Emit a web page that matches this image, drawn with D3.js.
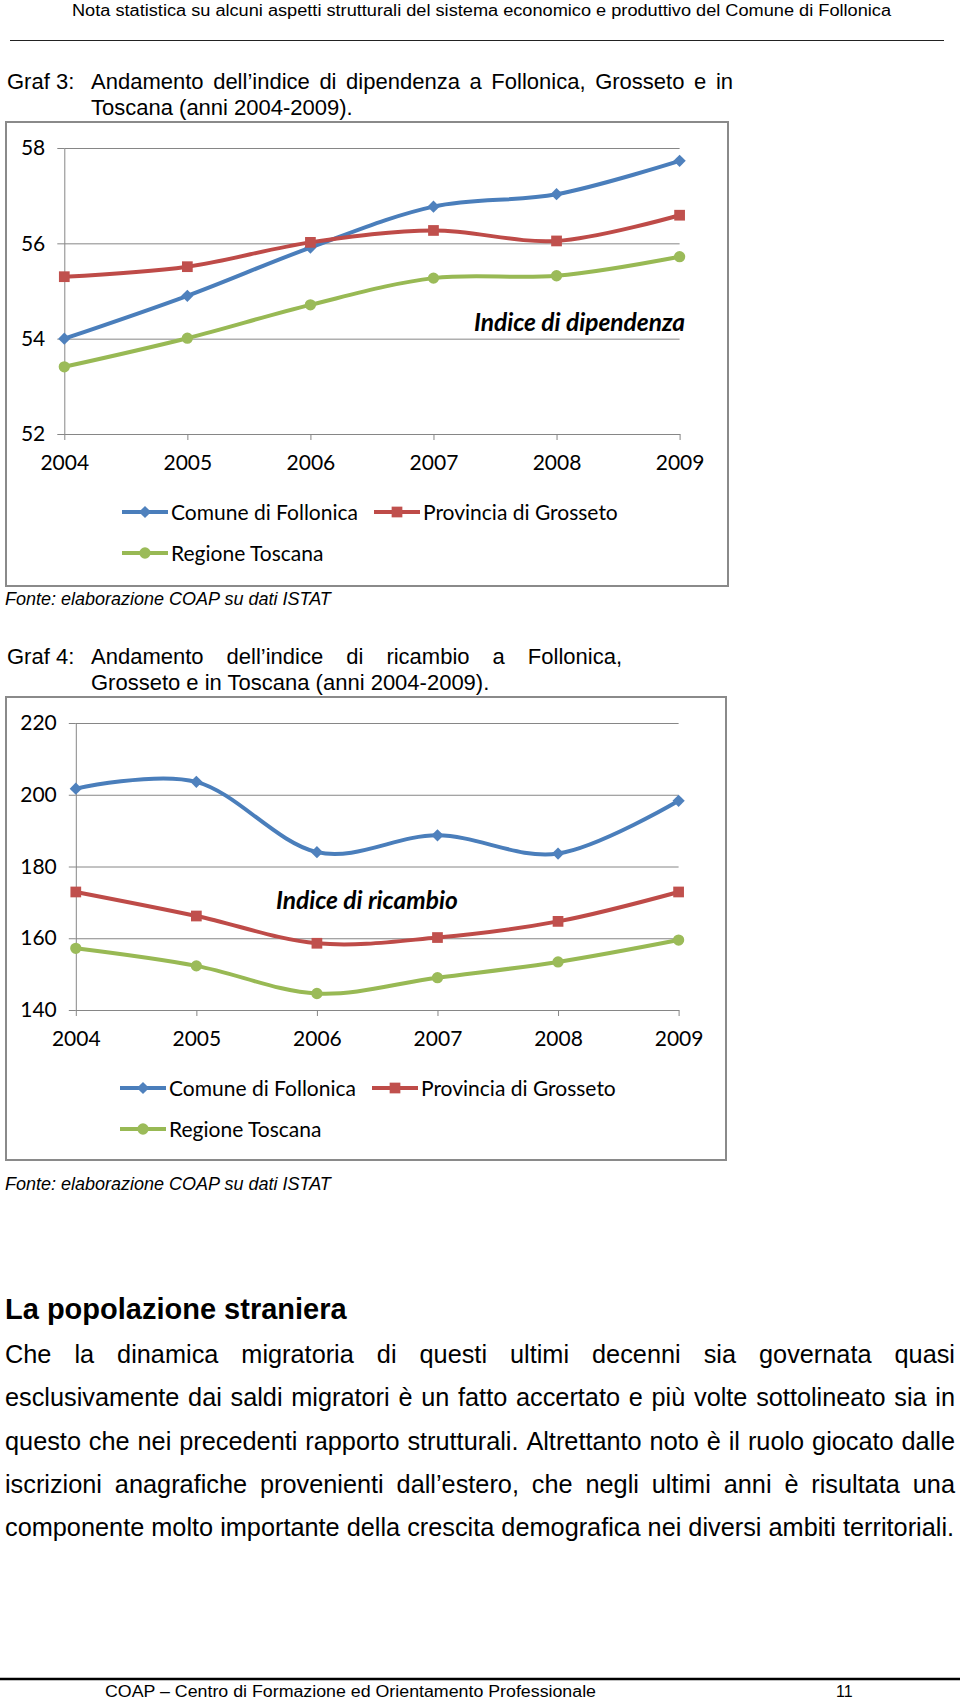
<!DOCTYPE html>
<html><head><meta charset="utf-8">
<script src="https://cdn.jsdelivr.net/npm/d3@7"></script>
<style>
html,body{margin:0;padding:0;background:#fff;}
svg{display:block;}
</style></head><body>
<svg id="page" width="960" height="1700"></svg>
<script>
// ---------- DATA ----------
const years = ["2004","2005","2006","2007","2008","2009"];
const seriesNames = ["Comune di Follonica","Provincia di Grosseto","Regione Toscana"];

const dipFollonica = [54.00, 54.90, 55.91, 56.77, 57.03, 57.73];
const dipGrosseto  = [55.30, 55.51, 56.02, 56.27, 56.05, 56.59];
const dipToscana   = [53.41, 54.01, 54.71, 55.27, 55.32, 55.72];
const dipTicks = [52, 54, 56, 58];

const ricFollonica = [201.7, 203.6, 184.0, 188.7, 183.6, 198.3];
const ricGrosseto  = [172.9, 166.2, 158.6, 160.2, 164.7, 172.9];
const ricToscana   = [157.2, 152.3, 144.6, 149.0, 153.4, 159.5];
const ricTicks = [140, 160, 180, 200, 220];

const headerText = "Nota statistica su alcuni aspetti strutturali del sistema economico e produttivo del Comune di Follonica";
const footerText = "COAP – Centro di Formazione ed Orientamento Professionale";
const pageNumber = "11";
const graf3Label = "Graf 3:";
const graf3Lines = ["Andamento dell’indice di dipendenza a Follonica, Grosseto e in", "Toscana (anni 2004-2009)."];
const graf4Label = "Graf 4:";
const graf4Lines = ["Andamento dell’indice di ricambio a Follonica,", "Grosseto e in Toscana (anni 2004-2009)."];
const sourceText = "Fonte: elaborazione COAP su dati ISTAT";
const chart1Title = "Indice di dipendenza";
const chart2Title = "Indice di ricambio";
const sectionTitle = "La popolazione straniera";
const bodyLines = [
  "Che la dinamica migratoria di questi ultimi decenni sia governata quasi",
  "esclusivamente dai saldi migratori è un fatto accertato e più volte sottolineato sia in",
  "questo che nei precedenti rapporto strutturali. Altrettanto noto è il ruolo giocato dalle",
  "iscrizioni anagrafiche provenienti dall’estero, che negli ultimi anni è risultata una",
  "componente molto importante della crescita demografica nei diversi ambiti territoriali."
];

// ---------- STYLE ----------
const SANS = "'Liberation Sans', Arial, Helvetica, sans-serif";
const CHART = "Lato, 'Open Sans', sans-serif";
const colors = [
  {line:"#4A7EBB", fill:"#4F81BD", shape:"diamond"},
  {line:"#BE4B48", fill:"#C0504D", shape:"square"},
  {line:"#98B954", fill:"#9BBB59", shape:"circle"}
];

const svg = d3.select("#page");

function txt(x, y, str, o = {}) {
  const t = svg.append("text").attr("x", x).attr("y", y).text(str)
    .style("font-family", o.family || SANS)
    .style("font-size", (o.size || 16) + "px")
    .attr("fill", o.fill || "#000");
  if (o.weight) t.style("font-weight", o.weight);
  if (o.italic) t.style("font-style", "italic");
  if (o.anchor) t.attr("text-anchor", o.anchor);
  if (o.fit) t.attr("textLength", o.fit).attr("lengthAdjust", "spacingAndGlyphs");
  return t;
}

function justified(x0, x1, y, str, o = {}) {
  const words = str.split(" ");
  const t = svg.append("text").attr("y", y)
    .style("font-family", o.family || SANS)
    .style("font-size", (o.size || 16) + "px")
    .attr("fill", "#000");
  const spans = words.map(w => t.append("tspan").text(w));
  const widths = spans.map(s => s.node().getComputedTextLength());
  const total = d3.sum(widths);
  const gap = (x1 - x0 - total) / (words.length - 1);
  let cx = x0;
  spans.forEach((s, i) => { s.attr("x", cx); cx += widths[i] + gap; });
  return t;
}

// ---------- PAGE TEXT ----------
txt(72, 16, headerText, {size: 16, fit: 819});
svg.append("line").attr("x1", 10).attr("x2", 944).attr("y1", 40.5).attr("y2", 40.5)
  .attr("stroke", "#222").attr("stroke-width", 1);

txt(7, 89, graf3Label, {size: 22});
justified(91, 733, 89, graf3Lines[0], {size: 22});
txt(91, 115, graf3Lines[1], {size: 22});

txt(5, 605, sourceText, {size: 18, italic: true});

txt(7, 664, graf4Label, {size: 22});
justified(91, 622, 664, graf4Lines[0], {size: 22});
txt(91, 690, graf4Lines[1], {size: 22});

txt(5, 1190, sourceText, {size: 18, italic: true});

txt(5, 1319, sectionTitle, {size: 29, weight: "bold"});
bodyLines.forEach((l, i) => {
  const y = 1363 + i * 43.3;
  if (i < bodyLines.length - 1) justified(5, 955, y, l, {size: 25.3});
  else txt(5, y, l, {size: 25.3});
});

svg.append("line").attr("x1", 0).attr("x2", 960).attr("y1", 1679).attr("y2", 1679)
  .attr("stroke", "#000").attr("stroke-width", 2.5);
txt(105, 1697, footerText, {size: 16, fit: 491});
txt(836, 1697, pageNumber, {size: 16});

// ---------- CHARTS ----------
function marker(g, shape, cx, cy, color) {
  if (shape === "diamond") {
    g.append("path").attr("d", d3.symbol(d3.symbolSquare, 75)())
      .attr("transform", `translate(${cx},${cy}) rotate(45)`).attr("fill", color);
  } else if (shape === "square") {
    g.append("path").attr("d", d3.symbol(d3.symbolSquare, 115)())
      .attr("transform", `translate(${cx},${cy})`).attr("fill", color);
  } else {
    g.append("path").attr("d", d3.symbol(d3.symbolCircle, 100)())
      .attr("transform", `translate(${cx},${cy})`).attr("fill", color);
  }
}

function drawChart(c) {
  const g = svg.append("g");
  g.append("rect").attr("x", c.box[0]).attr("y", c.box[1])
    .attr("width", c.box[2] - c.box[0]).attr("height", c.box[3] - c.box[1])
    .attr("fill", "#fff").attr("stroke", "#8a8a8a").attr("stroke-width", 2);

  const x = d3.scalePoint().domain(years).range([c.left, c.right]);
  const y = d3.scaleLinear().domain([c.ticks[0], c.ticks[c.ticks.length - 1]]).range([c.bottom, c.top]);

  const grid = g.append("g").attr("transform", `translate(${c.left},0)`)
    .call(d3.axisLeft(y).tickValues(c.ticks).tickSize(-(c.right - c.left)).tickFormat("").tickSizeOuter(0));
  grid.select(".domain").remove();
  grid.selectAll("line").attr("stroke", "#868686").attr("stroke-width", 1);

  const ya = g.append("g").attr("transform", `translate(${c.left},0)`)
    .call(d3.axisLeft(y).tickValues(c.ticks).tickFormat(d3.format("d")).tickSize(7).tickPadding(12).tickSizeOuter(0));
  ya.select(".domain").attr("stroke", "#868686");
  ya.selectAll("line").attr("stroke", "#868686");
  ya.selectAll("text").style("font-family", CHART).style("font-size", "21px").attr("fill", "#000");

  const xa = g.append("g").attr("transform", `translate(0,${c.bottom})`)
    .call(d3.axisBottom(x).tickSize(6).tickSizeOuter(0).tickPadding(15));
  xa.select(".domain").attr("stroke", "#868686");
  xa.selectAll("line").attr("stroke", "#868686");
  xa.selectAll("text").style("font-family", CHART).style("font-size", "21px").attr("fill", "#000");

  const line = d3.line().x((d, i) => x(years[i])).y(d => y(d)).curve(d3.curveCardinal.tension(0));
  c.series.forEach((s, k) => {
    g.append("path").attr("d", line(s)).attr("fill", "none")
      .attr("stroke", colors[k].line).attr("stroke-width", 4).attr("stroke-linecap", "round");
    s.forEach((v, i) => marker(g, colors[k].shape, x(years[i]), y(v), colors[k].fill));
  });

  g.append("text").attr("x", c.titlePos[0]).attr("y", c.titlePos[1]).text(c.title)
    .style("font-family", CHART).style("font-size", "24.5px").style("font-weight", "bold")
    .style("font-style", "italic").attr("fill", "#000");

  c.legend.forEach((p, k) => {
    g.append("line").attr("x1", p[0]).attr("x2", p[0] + 46).attr("y1", p[1]).attr("y2", p[1])
      .attr("stroke", colors[k].line).attr("stroke-width", 4);
    marker(g, colors[k].shape, p[0] + 23, p[1], colors[k].fill);
    g.append("text").attr("x", p[0] + 49).attr("y", p[1] + 7.5).text(seriesNames[k])
      .style("font-family", CHART).style("font-size", "21px").attr("fill", "#000");
  });
}

drawChart({
  box: [6, 122, 728, 586],
  left: 64.3, right: 679.6, top: 148, bottom: 434,
  ticks: dipTicks,
  series: [dipFollonica, dipGrosseto, dipToscana],
  title: chart1Title, titlePos: [474, 331],
  legend: [[122, 512], [374, 512], [122, 553]]
});

drawChart({
  box: [6, 697, 726, 1160],
  left: 75.8, right: 678.6, top: 723, bottom: 1010,
  ticks: ricTicks,
  series: [ricFollonica, ricGrosseto, ricToscana],
  title: chart2Title, titlePos: [276, 909],
  legend: [[120, 1088], [372, 1088], [120, 1129]]
});
</script>
</body></html>
